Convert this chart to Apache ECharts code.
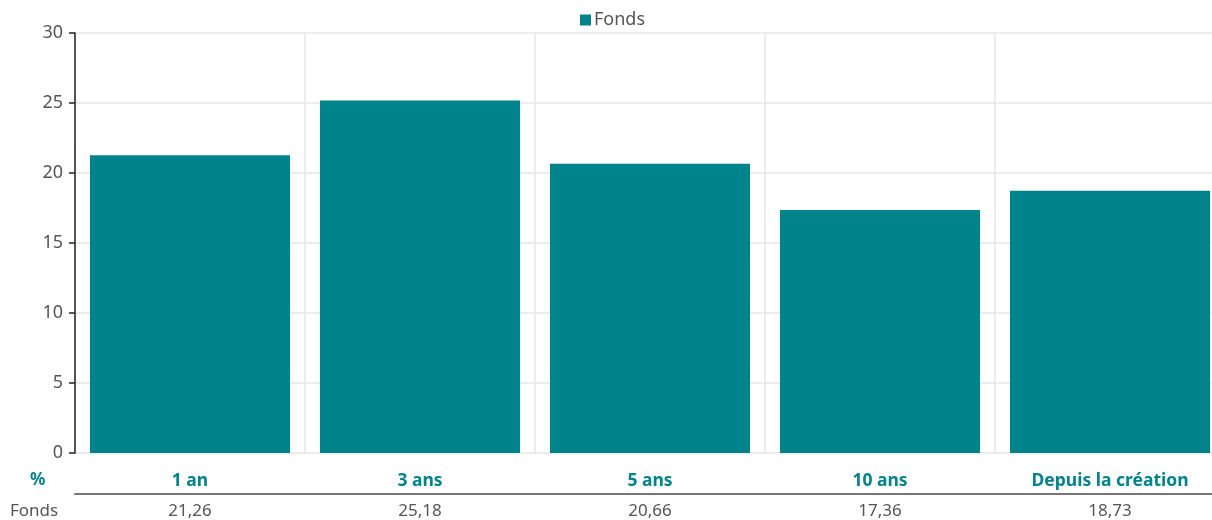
<!DOCTYPE html>
<html><head><meta charset="utf-8">
<script src="https://cdn.jsdelivr.net/npm/echarts@6/dist/echarts.min.js"></script>
<style>html,body{margin:0;padding:0;background:#fff;overflow:hidden}#c{width:1225px;height:520px}</style>
</head><body><div id="c"></div>
<script>
const categories = ['1 an', '3 ans', '5 ans', '10 ans', 'Depuis la création'];
const fondsValues = [21.26, 25.18, 20.66, 17.36, 18.73];
const yTicks = [0, 5, 10, 15, 20, 25, 30];
const seriesName = 'Fonds';
const fmt = v => v.toFixed(2).replace('.', ',');
const teal = '#00838A';
const font = 'Noto Sans';
const chart = echarts.init(document.getElementById('c'));
chart.setOption({
  animation: false,
  textStyle: { fontFamily: font },
  legend: {
    top: 6, left: 'center', itemWidth: 11, itemHeight: 11, itemGap: 4,
    icon: 'rect',
    textStyle: { fontSize: 18, color: '#555', fontFamily: font, padding: [0, 0, 0, -2] },
    data: [seriesName]
  },
  grid: { left: 75, top: 33, bottom: 66, right: 0, containLabel: false },
  xAxis: [{
    type: 'category', data: categories,
    axisLine: { show: false }, axisTick: { show: false },
    splitLine: { show: true, lineStyle: { color: '#e6e6e6', width: 1.5 } },
    axisLabel: { color: teal, fontWeight: 'bold', fontSize: 17.5, margin: 19, interval: 0, fontFamily: font }
  }, {
    type: 'category', data: categories, position: 'bottom', offset: 41,
    axisLine: { show: true, lineStyle: { color: '#777', width: 2 } },
    axisTick: { show: false },
    axisLabel: { color: '#555', fontSize: 17, margin: 9, interval: 0, fontFamily: font,
      formatter: (v, i) => fmt(fondsValues[i]) }
  }],
  yAxis: {
    type: 'value', min: yTicks[0], max: yTicks[yTicks.length - 1], interval: 5,
    axisLine: { show: true, lineStyle: { color: '#222', width: 1.5 } },
    axisTick: { show: true, length: 6, lineStyle: { color: '#222', width: 1.5 } },
    splitLine: { show: true, lineStyle: { color: '#e6e6e6', width: 1.5 } },
    axisLabel: { color: '#555', fontSize: 18, margin: 12, fontFamily: font }
  },
  graphic: [
    { type: 'text', left: 30, top: 472, style: { text: '%', fill: teal, font: 'bold 17px "' + font + '"' } },
    { type: 'text', left: 10, top: 503, style: { text: 'Fonds', fill: '#555', font: '17px "' + font + '"' } }
  ],
  series: [{
    name: seriesName, type: 'bar', data: fondsValues,
    barCategoryGap: '13%', itemStyle: { color: teal }
  }]
});
</script></body></html>
